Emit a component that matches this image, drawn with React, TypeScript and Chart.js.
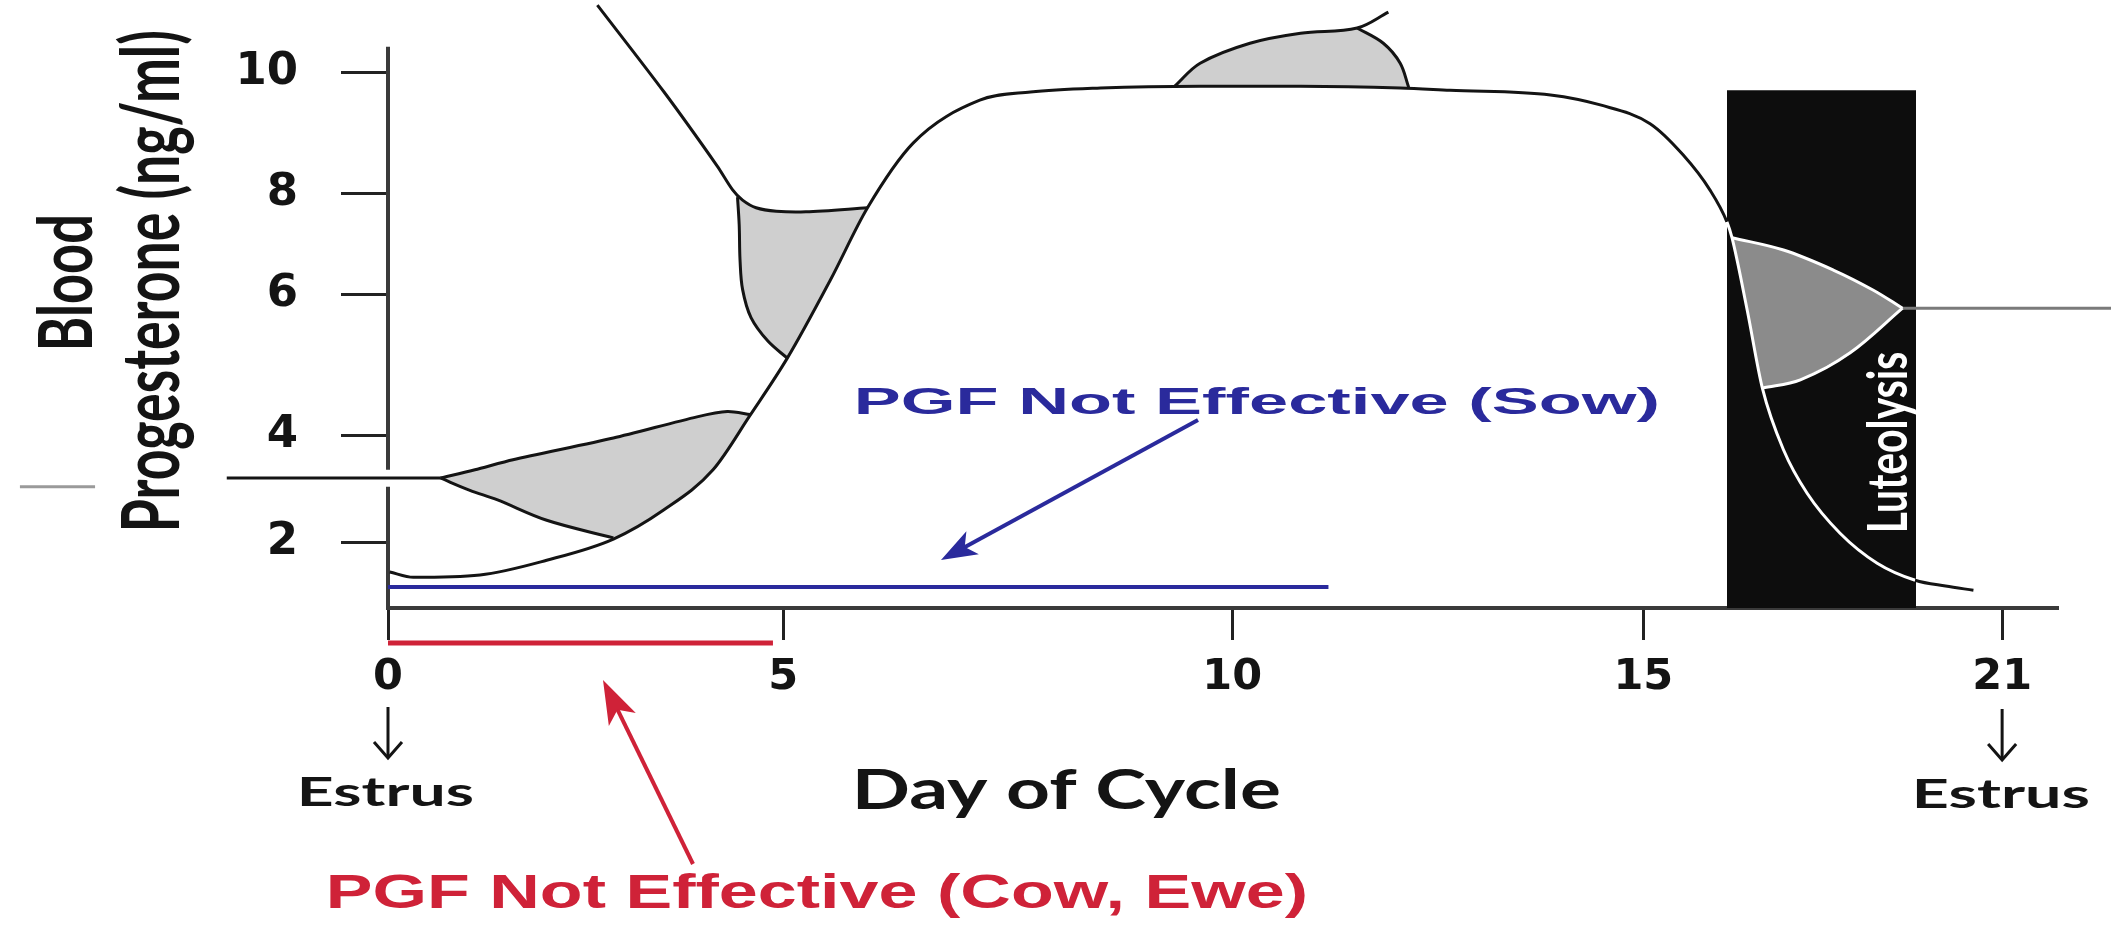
import React, { useEffect, useRef } from 'react';
import { Chart, registerables } from 'chart.js';

Chart.register(...registerables);

type Pt = [number, number];

// ---------- axes (the drawing's day axis and ng/ml axis are hand-spaced, so ticks sit at read-off positions)
const dayTickPositions = [0, 4.68, 10, 14.87, 19.12];
const dayTickLabels = ['0', '5', '10', '15', '21'];
const progTickPositions = [2, 3.82, 6.21, 7.94, 10];
const progTickLabels = ['2', '4', '6', '8', '10'];
const dayExtent = [0, 19.77];
const progExtent = [0.877, 11.226];
const yAxisRun: Array<number | null> = [0.877, 2.94, null, 3.23, 10.43];

// ---------- main progesterone curve (day, ng/ml)
const progesteroneCurve: Pt[] = [
  [0.02, 1.49], [0.3, 1.4], [1.09, 1.44], [1.88, 1.69], [2.67, 2.05], [3.26, 2.54], [3.85, 3.23],
  [4.29, 4.16], [4.73, 5.13], [5.24, 6.46], [5.68, 7.69], [6.22, 8.79], [7.01, 9.52], [7.61, 9.66],
  [8.44, 9.73], [9.62, 9.76], [10.81, 9.76], [11.99, 9.73], [12.58, 9.69], [13.77, 9.61], [14.36, 9.44],
  [14.95, 9.12], [15.34, 8.59], [15.66, 7.99], [15.86, 7.45], [15.92, 7.18], [16.1, 5.95], [16.28, 4.62],
  [16.53, 3.57], [16.81, 2.83], [17.2, 2.15], [17.64, 1.64], [18.09, 1.35], [18.45, 1.25], [18.78, 1.18],
];

// ---------- luteolysis window (days) and its height
const luteolysisDays = [15.86, 18.1];
const luteolysisTop = 9.69;

// ---------- early-cycle branches
const earlyDescent: Pt[] = [
  [2.48, 11.14], [3.27, 9.66], [3.9, 8.4], [4.08, 8.0], [4.2, 7.82], [4.36, 7.69], [4.6, 7.63], [4.95, 7.62], [5.68, 7.69],
];
const earlyBranch: Pt[] = [
  [4.14, 7.87], [4.16, 7.4], [4.17, 6.8], [4.2, 6.3], [4.3, 5.82], [4.5, 5.42], [4.73, 5.13],
];
const earlyArea: Pt[] = [
  [4.14, 7.87], [4.16, 7.4], [4.17, 6.8], [4.2, 6.3], [4.3, 5.82], [4.5, 5.42], [4.73, 5.13],
  [5.0, 5.82], [5.24, 6.46], [5.46, 7.08], [5.68, 7.69], [4.95, 7.62], [4.6, 7.63], [4.36, 7.69], [4.2, 7.82],
];

const lowLevel: Pt[] = [[0.62, 3.09], [-1.91, 3.09]];
const lowUpperEdge: Pt[] = [
  [0.62, 3.09], [1.03, 3.23], [1.48, 3.4], [2.67, 3.77], [3.66, 4.13], [4.02, 4.22], [4.29, 4.17],
];
const lowLowerEdge: Pt[] = [[0.62, 3.09], [0.97, 2.88], [1.29, 2.72], [1.88, 2.37], [2.67, 2.07]];
const lowArea: Pt[] = [
  [0.62, 3.09], [1.03, 3.23], [1.48, 3.4], [2.67, 3.77], [3.66, 4.13], [4.02, 4.22], [4.29, 4.17],
  [4.07, 3.66], [3.85, 3.23], [3.55, 2.86], [3.26, 2.54], [2.96, 2.27], [2.67, 2.06], [1.88, 2.37],
  [1.29, 2.72], [0.97, 2.88],
];
const farLeftMark: Pt[] = [[-3.47, 2.94], [-4.36, 2.94]];

// ---------- mid-cycle bump
const bumpEdge: Pt[] = [[9.32, 9.76], [9.62, 10.15], [10.21, 10.49], [10.81, 10.66], [11.48, 10.75], [11.85, 11.02]];
const bumpSide: Pt[] = [[11.48, 10.75], [11.79, 10.49], [11.99, 10.15], [12.09, 9.74]];
const bumpArea: Pt[] = [
  [9.32, 9.76], [9.62, 10.15], [10.21, 10.49], [10.81, 10.66], [11.48, 10.75], [11.79, 10.49],
  [11.99, 10.15], [12.09, 9.74], [10.81, 9.76], [9.62, 9.76],
];

// ---------- luteolysis triangle
const lutUpperEdge: Pt[] = [[15.92, 7.18], [16.53, 6.97], [17.12, 6.63], [17.59, 6.29], [17.94, 5.98]];
const lutLowerEdge: Pt[] = [[16.28, 4.62], [16.73, 4.76], [17.32, 5.22], [17.94, 5.98]];
const lutArea: Pt[] = [
  [15.92, 7.18], [16.53, 6.97], [17.12, 6.63], [17.59, 6.29], [17.94, 5.98], [17.32, 5.22],
  [16.73, 4.76], [16.28, 4.62], [16.19, 5.3], [16.1, 5.95], [16.0, 6.6],
];
const lutLevel: Pt[] = [[20.41, 5.98], [17.94, 5.98]];

// ---------- PGF windows (day span, drawn level)
const sowWindow = [0, 11.14];
const sowLevel = 1.235;
const cowEweWindow = [0, 4.56];
const cowEweLevel = 0.28;

// ---------- labels
const yTitleLine1 = 'Blood';
const yTitleLine2 = 'Progesterone (ng/ml)';
const xTitle = 'Day of Cycle';
const estrusLabel = 'Estrus';
const sowLabel = 'PGF Not Effective (Sow)';
const cowEweLabel = 'PGF Not Effective (Cow, Ewe)';
const luteolysisLabel = 'Luteolysis';

// ---------- layout (canvas pixels)
const W = 2111;
const H = 933;
const textBoxes: Record<string, [number, number, number, number]> = {
  blood: [37, 217, 93, 347],
  progesterone: [115, 32, 193, 528],
  dayOfCycle: [858, 768, 1279, 818],
  estrusLeft: [302, 777, 472, 806],
  estrusRight: [1917, 779, 2088, 808],
  sow: [858, 388, 1657, 422],
  cowEwe: [330, 872, 1305, 918],
  luteolysis: [1866, 353, 1917, 530],
};
const BLUE = '#2a2a9c';
const RED = '#cf2238';
const INK = '#141414';

const toXY = (pts: Pt[]) => pts.map(([x, y]) => ({ x, y }));

function lineSet(pts: Pt[], color: string, width: number, extra: any = {}) {
  return {
    data: toXY(pts),
    borderColor: color,
    borderWidth: width,
    pointRadius: 0,
    fill: false,
    clip: false,
    tension: 0.35,
    order: 10,
    ...extra,
  };
}
function areaSet(pts: Pt[], color: string) {
  return {
    data: toXY(pts),
    borderWidth: 0,
    borderColor: 'rgba(0,0,0,0)',
    backgroundColor: color,
    fill: 'shape',
    pointRadius: 0,
    tension: 0,
    clip: false,
    order: 50,
  };
}

function fittedText(ctx: CanvasRenderingContext2D, text: string, box: [number, number, number, number], font: string, color: string, vertical = false) {
  ctx.save();
  ctx.font = font;
  ctx.fillStyle = color;
  ctx.textAlign = 'left';
  ctx.textBaseline = 'alphabetic';
  const m = ctx.measureText(text);
  const w = m.actualBoundingBoxLeft + m.actualBoundingBoxRight;
  const h = m.actualBoundingBoxAscent + m.actualBoundingBoxDescent;
  const bw = box[2] - box[0];
  const bh = box[3] - box[1];
  ctx.translate((box[0] + box[2]) / 2, (box[1] + box[3]) / 2);
  if (vertical) ctx.rotate(-Math.PI / 2);
  const along = vertical ? bh : bw;
  const across = vertical ? bw : bh;
  ctx.scale(along / w, across / h);
  ctx.fillText(text, -w / 2 + m.actualBoundingBoxLeft, -h / 2 + m.actualBoundingBoxAscent);
  ctx.restore();
}

function arrow(ctx: CanvasRenderingContext2D, x0: number, y0: number, x1: number, y1: number, color: string, lw: number, headLen: number, headHalf: number) {
  const dx = x1 - x0;
  const dy = y1 - y0;
  const len = Math.hypot(dx, dy);
  const ux = dx / len;
  const uy = dy / len;
  ctx.save();
  ctx.strokeStyle = color;
  ctx.fillStyle = color;
  ctx.lineWidth = lw;
  ctx.beginPath();
  ctx.moveTo(x0, y0);
  ctx.lineTo(x1 - ux * headLen * 0.6, y1 - uy * headLen * 0.6);
  ctx.stroke();
  ctx.beginPath();
  ctx.moveTo(x1, y1);
  ctx.lineTo(x1 - ux * headLen - uy * headHalf, y1 - uy * headLen + ux * headHalf);
  ctx.lineTo(x1 - ux * headLen * 0.75, y1 - uy * headLen * 0.75);
  ctx.lineTo(x1 - ux * headLen + uy * headHalf, y1 - uy * headLen - ux * headHalf);
  ctx.closePath();
  ctx.fill();
  ctx.restore();
}

function downArrow(ctx: CanvasRenderingContext2D, x: number, yTop: number, yTip: number) {
  ctx.save();
  ctx.strokeStyle = INK;
  ctx.lineWidth = 3;
  ctx.beginPath();
  ctx.moveTo(x, yTop);
  ctx.lineTo(x, yTip);
  ctx.stroke();
  ctx.beginPath();
  ctx.moveTo(x - 14, yTip - 16);
  ctx.lineTo(x, yTip);
  ctx.lineTo(x + 14, yTip - 16);
  ctx.stroke();
  ctx.restore();
}

const annotationPlugin = {
  id: 'schematicAnnotations',
  afterDraw(chart: any) {
    const ctx: CanvasRenderingContext2D = chart.ctx;
    const xs = chart.scales.x;
    const black = 'bold 100px Lato';
    fittedText(ctx, yTitleLine1, textBoxes.blood, black, INK, true);
    fittedText(ctx, yTitleLine2, textBoxes.progesterone, black, INK, true);
    fittedText(ctx, xTitle, textBoxes.dayOfCycle, black, INK);
    fittedText(ctx, estrusLabel, textBoxes.estrusLeft, black, INK);
    fittedText(ctx, estrusLabel, textBoxes.estrusRight, black, INK);
    fittedText(ctx, luteolysisLabel, textBoxes.luteolysis, black, '#ffffff', true);
    fittedText(ctx, sowLabel, textBoxes.sow, 'bold 100px "Liberation Sans"', BLUE);
    fittedText(ctx, cowEweLabel, textBoxes.cowEwe, 'bold 100px "Liberation Sans"', RED);

    const first = xs.getPixelForValue(dayTickPositions[0]);
    const last = xs.getPixelForValue(dayTickPositions[dayTickPositions.length - 1]);
    downArrow(ctx, first, 707, 758);
    downArrow(ctx, last, 709, 760);

    arrow(ctx, 1198, 420, 941, 560, BLUE, 4, 36, 13);
    arrow(ctx, 693, 864, 603, 680, RED, 4, 44, 15);
  },
};

export default function App() {
  const ref = useRef<HTMLCanvasElement>(null);

  useEffect(() => {
    const canvas = ref.current;
    if (!canvas) return;

    const datasets: any[] = [
      // luteolysis window
      {
        data: toXY([[luteolysisDays[0], luteolysisTop], [luteolysisDays[1], luteolysisTop]]),
        borderWidth: 0,
        borderColor: 'rgba(0,0,0,0)',
        backgroundColor: '#0d0d0d',
        fill: 'start',
        pointRadius: 0,
        tension: 0,
        order: 100,
      },
      areaSet(earlyArea, '#cfcfcf'),
      areaSet(lowArea, '#cfcfcf'),
      areaSet(bumpArea, '#cfcfcf'),
      areaSet(lutArea, '#8b8b8b'),
      // y axis line with its break
      {
        data: yAxisRun.map((v) => ({ x: 0, y: v })),
        borderColor: '#3a3a3a',
        borderWidth: 4,
        pointRadius: 0,
        fill: false,
        clip: false,
        tension: 0,
        spanGaps: false,
        order: 20,
      },
      lineSet(progesteroneCurve, INK, 3, {
        order: 5,
        tension: 0,
        cubicInterpolationMode: 'monotone',
        segment: {
          borderColor: (c: any) =>
            c.p0.parsed.x >= luteolysisDays[0] - 1e-6 && c.p1.parsed.x <= luteolysisDays[1] + 1e-6 ? '#ffffff' : INK,
        },
      }),
      lineSet(earlyDescent, INK, 3, { tension: 0.3 }),
      lineSet(earlyBranch, INK, 3, { tension: 0.35 }),
      lineSet(lowLevel, INK, 3, { tension: 0 }),
      lineSet(lowUpperEdge, INK, 3, { tension: 0.25 }),
      lineSet(lowLowerEdge, INK, 3),
      lineSet(farLeftMark, '#9a9a9a', 3, { tension: 0 }),
      lineSet(bumpEdge, INK, 3),
      lineSet(bumpSide, INK, 3),
      lineSet(lutUpperEdge, '#ffffff', 3),
      lineSet(lutLowerEdge, '#ffffff', 3),
      lineSet(lutLevel, '#7a7a7a', 3, { tension: 0 }),
      lineSet([[sowWindow[0], sowLevel], [sowWindow[1], sowLevel]], BLUE, 4, { tension: 0 }),
      lineSet([[cowEweWindow[0], cowEweLevel], [cowEweWindow[1], cowEweLevel]], RED, 5, { tension: 0 }),
    ];

    const chart = new Chart(canvas, {
      type: 'line',
      data: { datasets },
      options: {
        responsive: false,
        animation: false,
        events: [],
        devicePixelRatio: 1,
        layout: { padding: { left: 0, right: 54, top: 0, bottom: 0 } },
        plugins: {
          legend: { display: false },
          tooltip: { enabled: false },
          title: { display: false },
        },
        elements: { point: { radius: 0 } },
        scales: {
          x: {
            type: 'linear',
            min: dayExtent[0],
            max: dayExtent[1],
            bounds: 'data',
            afterBuildTicks: (s: any) => {
              s.ticks = dayTickPositions.map((v) => ({ value: v }));
            },
            afterFit: (s: any) => {
              s.height = H - 608;
              s.paddingLeft = 0;
              s.paddingRight = 0;
            },
            ticks: {
              callback: (_v: any, i: number) => dayTickLabels[i],
              font: { family: '"DejaVu Sans"', weight: 'bold', size: 43 },
              color: INK,
              padding: 12,
              maxRotation: 0,
              autoSkip: false,
            },
            grid: { drawOnChartArea: false, drawTicks: true, tickLength: 32, color: '#222', lineWidth: 3 },
            border: { display: true, color: '#3a3a3a', width: 4 },
          },
          y: {
            type: 'linear',
            min: progExtent[0],
            max: progExtent[1],
            bounds: 'data',
            afterBuildTicks: (s: any) => {
              s.ticks = progTickPositions.map((v) => ({ value: v }));
            },
            afterFit: (s: any) => {
              s.width = 388;
              s.paddingTop = 0;
              s.paddingBottom = 0;
            },
            ticks: {
              callback: (_v: any, i: number) => progTickLabels[i],
              font: { family: '"DejaVu Sans"', weight: 'bold', size: 45 },
              color: INK,
              padding: 43,
              autoSkip: false,
            },
            grid: { drawOnChartArea: false, drawTicks: true, tickLength: 47, color: '#222', lineWidth: 3 },
            border: { display: false },
          },
        },
      } as any,
      plugins: [annotationPlugin],
    } as any);

    return () => chart.destroy();
  }, []);

  return (
    <div style={{ position: 'fixed', left: 0, top: 0, width: W, height: H, background: '#ffffff' }}>
      <canvas ref={ref} width={W} height={H} style={{ display: 'block', width: W, height: H }} />
    </div>
  );
}
